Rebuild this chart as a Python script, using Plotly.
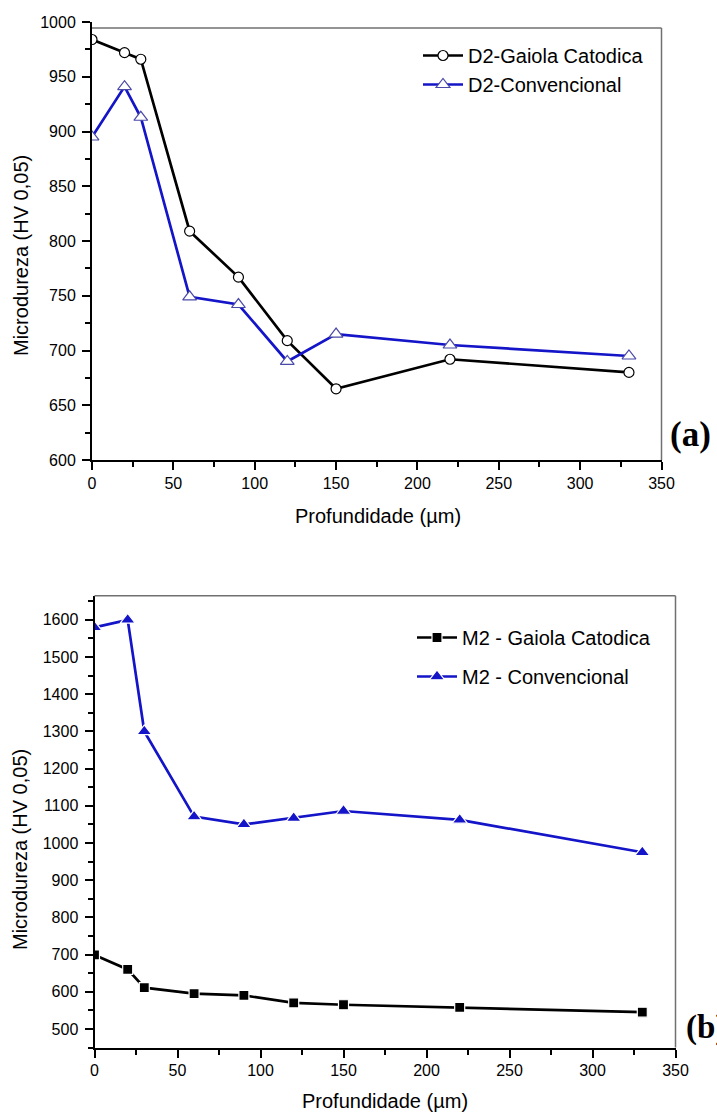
import plotly.graph_objects as go

W, H = 717, 1113

# ---- data (a) D2 ----
depth_a = [0, 20, 30, 60, 90, 120, 150, 220, 330]
d2_gaiola = [984, 972, 966, 809, 767, 709, 665, 692, 680]
d2_conv = [895, 941, 913, 749, 742, 690, 715, 705, 695]

# ---- data (b) M2 ----
depth_b = [0, 20, 30, 60, 90, 120, 150, 220, 330]
m2_gaiola = [699, 660, 611, 595, 590, 570, 565, 558, 545]
m2_conv = [1580, 1600, 1300, 1071, 1050, 1067, 1086, 1062, 975]

BLUE = "#1414c8"
FONT = "Liberation Sans, Arial, sans-serif"


def px_x(v):
    return v / W


def px_y(v):
    return 1 - v / H


fig = go.Figure()

fig.add_trace(go.Scatter(
    x=depth_a, y=d2_gaiola, name="D2-Gaiola Catodica", mode="lines+markers",
    line=dict(color="black", width=2.7),
    marker=dict(symbol="circle", size=10, color="white", line=dict(color="black", width=1.2)),
    xaxis="x", yaxis="y", legend="legend", legendgroup="a1"))
fig.add_trace(go.Scatter(
    x=depth_a, y=d2_conv, name="D2-Convencional", mode="lines+markers",
    line=dict(color=BLUE, width=2.7),
    marker=dict(symbol="triangle-up", size=12, color="white", line=dict(color="#4a4aa8", width=1.2)),
    xaxis="x", yaxis="y", legend="legend", legendgroup="a2"))

fig.add_trace(go.Scatter(
    x=depth_b, y=m2_gaiola, name="M2 - Gaiola Catodica", mode="lines+markers",
    line=dict(color="black", width=2.7),
    marker=dict(symbol="square", size=10, color="black", line=dict(color="white", width=1.2)),
    xaxis="x2", yaxis="y2", legend="legend2", legendgroup="b1"))
fig.add_trace(go.Scatter(
    x=depth_b, y=m2_conv, name="M2 - Convencional", mode="lines+markers",
    line=dict(color=BLUE, width=2.7),
    marker=dict(symbol="triangle-up", size=13, color=BLUE, line=dict(color="white", width=1.2)),
    xaxis="x2", yaxis="y2", legend="legend2", legendgroup="b2"))

axis_common = dict(
    showline=True, linecolor="black", linewidth=2,
    ticks="outside", ticklen=8, tickwidth=2, tickcolor="black",
    showgrid=False, zeroline=False, automargin=False,
    tickfont=dict(family=FONT, size=16, color="black"),
)

fig.update_layout(
    width=W, height=H,
    margin=dict(l=0, r=0, t=0, b=0),
    paper_bgcolor="white", plot_bgcolor="white",
    font=dict(family=FONT, color="black"),
    xaxis=dict(domain=[px_x(92), px_x(661.5)], range=[0, 350], dtick=50, anchor="y",
               minor=dict(ticks="outside", ticklen=5, tickwidth=1.5, dtick=25, tickcolor="black"),
               ticklabelstandoff=0, **axis_common),
    yaxis=dict(domain=[px_y(460), px_y(22)], range=[600, 1000], dtick=50, anchor="x",
               minor=dict(ticks="outside", ticklen=5, tickwidth=1.5, dtick=25, tickcolor="black"),
               ticklabelstandoff=3, **axis_common),
    xaxis2=dict(domain=[px_x(94.5), px_x(675.5)], range=[0, 350], dtick=50, anchor="y2",
                minor=dict(ticks="outside", ticklen=5, tickwidth=1.5, dtick=25, tickcolor="black"),
                ticklabelstandoff=-1, **axis_common),
    yaxis2=dict(domain=[px_y(1047.5), px_y(595.7)], range=[450, 1665], dtick=100, anchor="x2",
                minor=dict(ticks="outside", ticklen=5, tickwidth=1.5, dtick=50, tickcolor="black"),
                ticklabelstandoff=3, **axis_common),
    legend=dict(x=px_x(418), y=px_y(36), xanchor="left", yanchor="top",
                bgcolor="rgba(0,0,0,0)", font=dict(family=FONT, size=20),
                tracegroupgap=0, itemwidth=40),
    legend2=dict(x=px_x(412), y=px_y(618), xanchor="left", yanchor="top",
                 bgcolor="rgba(0,0,0,0)", font=dict(family=FONT, size=20),
                 tracegroupgap=10, itemwidth=40),
    showlegend=True,
)

frame = dict(type="line", xref="paper", yref="paper", line=dict(color="#707070", width=1.5))
fig.add_shape(x0=px_x(92), x1=px_x(661.5), y0=px_y(28), y1=px_y(28), **frame)
fig.add_shape(x0=px_x(661.5), x1=px_x(661.5), y0=px_y(28), y1=px_y(460), **frame)
fig.add_shape(x0=px_x(94.5), x1=px_x(675.5), y0=px_y(595.7), y1=px_y(595.7), **frame)
fig.add_shape(x0=px_x(675.5), x1=px_x(675.5), y0=px_y(595.7), y1=px_y(1047.5), **frame)

title_font = dict(family=FONT, size=20, color="black")
ann = [
    dict(text="Microdureza (HV 0,05)", x=px_x(21), y=px_y(256), textangle=-90, font=title_font),
    dict(text="Microdureza (HV 0,05)", x=px_x(20), y=px_y(850), textangle=-90, font=title_font),
    dict(text="Profundidade (µm)", x=px_x(377.5), y=px_y(516), font=title_font),
    dict(text="Profundidade (µm)", x=px_x(385), y=px_y(1101), font=title_font),
    dict(text="<b>(a)</b>", x=px_x(690), y=px_y(434),
         font=dict(family="Liberation Serif, Times New Roman, serif", size=35, color="black")),
    dict(text="<b>(b)</b>", x=px_x(684), y=px_y(1027), xanchor="left",
         font=dict(family="Liberation Serif, Times New Roman, serif", size=33, color="black")),
]
for a in ann:
    a.setdefault("xanchor", "center")
    fig.add_annotation(xref="paper", yref="paper", showarrow=False, yanchor="middle", **a)

fig.write_html("out.html")
